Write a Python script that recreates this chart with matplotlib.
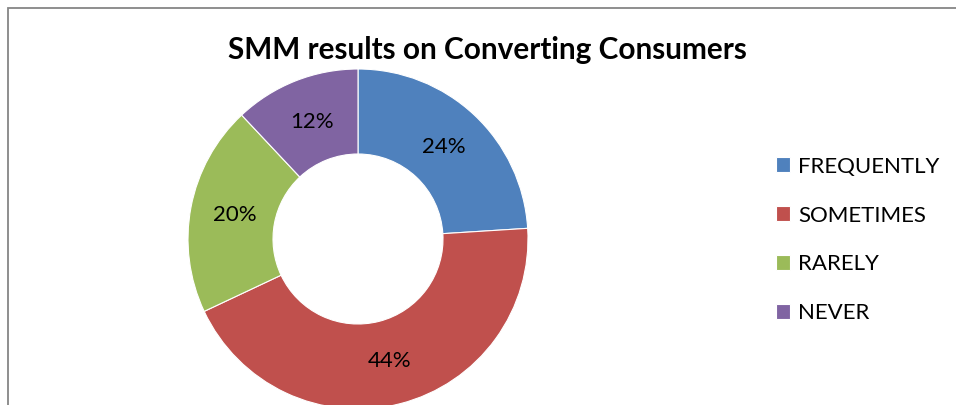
import matplotlib.pyplot as plt
from matplotlib.patches import Rectangle

labels = ['FREQUENTLY', 'SOMETIMES', 'RARELY', 'NEVER']
shares = [24, 44, 20, 12]
colors = ['#4F81BD', '#C0504D', '#9BBB59', '#8064A2']

plt.rcParams['font.family'] = ['Lato', 'DejaVu Sans']

W, H = 956, 405
fig = plt.figure(figsize=(W / 100, H / 100), dpi=100)
ax = fig.add_axes([0, 0, 1, 1])

# donut, drawn in pixel-like coordinates so it can run off the bottom edge
wedges, texts, autotexts = ax.pie(
    shares, colors=colors, startangle=90, counterclock=False,
    center=(358, H - 239), radius=170, frame=True,
    autopct='%1.0f%%', pctdistance=0.74,
    wedgeprops=dict(width=85, edgecolor='white', linewidth=0.8),
    textprops=dict(fontsize=16, color='black'))

ax.set_xlim(0, W)
ax.set_ylim(0, H)
ax.set_aspect('equal')
ax.axis('off')

# chart border (right and bottom sides fall outside the image)
ax.add_patch(Rectangle((8, -10), W + 20, H - 8 + 10, fill=False,
                       edgecolor='#868686', linewidth=1.3, clip_on=False))

ax.text(487, H - 50, 'SMM results on Converting Consumers', ha='center',
        va='center', fontsize=21.4, fontweight='bold')

fig.legend(wedges, labels, loc='center left', bbox_to_anchor=(776 / W, 1 - 240 / H),
           frameon=False, fontsize=16, handlelength=0.65, handleheight=0.65,
           handletextpad=0.35, labelspacing=1.3, borderaxespad=0, borderpad=0)

fig.savefig('out.png', dpi=100)
